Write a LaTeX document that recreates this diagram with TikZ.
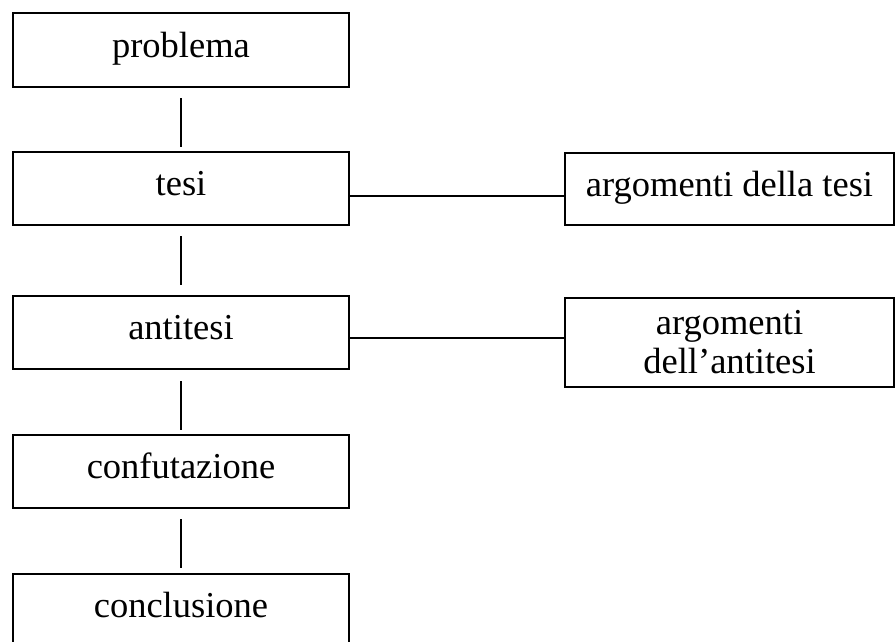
\documentclass[tikz,border=0pt]{standalone}
\usepackage{fontspec}
\setmainfont{Liberation Serif}
\begin{document}
\begin{tikzpicture}[x=1pt,y=-1pt,
  box/.style={draw=black,line width=1.4pt,rectangle,inner sep=0pt,outer sep=0pt,
    minimum width=336pt,font=\fontsize{36.5}{39}\selectfont,text height=25.5pt,text depth=11pt},
  rbox/.style={draw=black,line width=1.4pt,rectangle,inner sep=0pt,outer sep=0pt,
    minimum width=329pt,font=\fontsize{36.5}{39}\selectfont},
  conn/.style={draw=black,line width=1.4pt}]
\fill[white] (0,0) rectangle (895,641);
\useasboundingbox (0,0) rectangle (895,641);
\node[box,minimum height=74pt] (problema) at (181,50) {problema};
\node[box,minimum height=73pt] (tesi) at (181,188.5) {tesi};
\node[box,minimum height=73pt] (antitesi) at (181,332.5) {antitesi};
\node[box,minimum height=73pt] (confutazione) at (181,471.5) {confutazione};
\node[box,minimum height=72pt] (conclusione) at (181,610) {conclusione};
\node[rbox,minimum height=72pt,text height=25.5pt,text depth=11pt] (argT) at (729.5,189) {argomenti della tesi};
\node[rbox,minimum height=89pt,align=center] (argA) at (729.5,342.5) {argomenti\\dell’antitesi};
\draw[conn,shorten <=11pt,shorten >=5pt] (problema.south) -- (tesi.north);
\draw[conn,shorten <=11pt,shorten >=11pt] (tesi.south) -- (antitesi.north);
\draw[conn,shorten <=12pt,shorten >=5pt] (antitesi.south) -- (confutazione.north);
\draw[conn,shorten <=11pt,shorten >=6pt] (confutazione.south) -- (conclusione.north);
\draw[conn] ([yshift=-7.5pt]tesi.east) -- ([yshift=-7.5pt]tesi.east -| argT.west);
\draw[conn] ([yshift=-5.5pt]antitesi.east) -- ([yshift=-5.5pt]antitesi.east -| argA.west);
\end{tikzpicture}
\end{document}
